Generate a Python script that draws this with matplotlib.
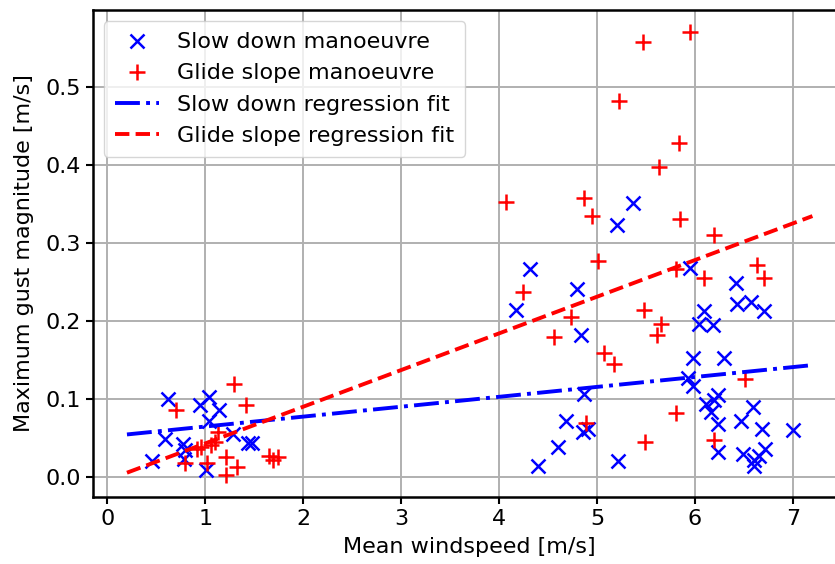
import matplotlib
matplotlib.use("Agg")
import matplotlib.pyplot as plt
import numpy as np

# Slow down manoeuvre data
slow_x = [0.62, 1.04, 0.95, 1.14, 1.04, 0.59, 0.77, 0.79, 0.46, 0.78, 1.01, 1.28, 1.44, 1.48,
          5.37, 5.20, 4.32, 4.80, 4.17, 4.84, 4.87, 4.68, 4.86, 4.91, 4.60, 4.40, 5.21,
          5.95, 6.42, 6.43, 6.57, 6.71, 6.09, 6.04, 6.18, 5.98, 6.30, 5.93, 5.98,
          6.11, 6.19, 6.24, 6.16, 6.24, 6.59, 6.47, 6.69, 7.00, 6.24, 6.49, 6.60, 6.60, 6.72, 6.65]
slow_y = [0.100, 0.103, 0.093, 0.086, 0.072, 0.049, 0.043, 0.035, 0.021, 0.023, 0.009, 0.055, 0.044, 0.044,
          0.352, 0.323, 0.267, 0.241, 0.214, 0.182, 0.107, 0.072, 0.058, 0.062, 0.039, 0.014, 0.021,
          0.269, 0.249, 0.222, 0.225, 0.213, 0.213, 0.196, 0.195, 0.153, 0.153, 0.128, 0.117,
          0.094, 0.099, 0.106, 0.084, 0.068, 0.090, 0.072, 0.062, 0.061, 0.033, 0.030, 0.022, 0.015, 0.036, 0.028]

# Glide slope manoeuvre data
glide_x = [1.29, 1.42, 0.70, 1.13, 1.10, 0.96, 0.92, 1.06, 1.02, 1.21, 1.32, 1.21, 0.79, 1.65, 1.69, 1.74,
           4.07, 4.24, 4.87, 4.95, 5.01, 5.22, 5.47, 5.95, 5.84, 5.63, 5.85, 6.19, 5.81, 6.09,
           6.63, 6.71, 5.48, 5.65, 5.61, 5.07, 5.17, 6.51, 5.81, 5.49, 6.20, 4.73, 4.56, 4.89]
glide_y = [0.120, 0.093, 0.086, 0.058, 0.045, 0.039, 0.036, 0.041, 0.019, 0.026, 0.013, 0.003, 0.019, 0.028, 0.022, 0.026,
           0.353, 0.238, 0.358, 0.335, 0.278, 0.483, 0.558, 0.571, 0.429, 0.398, 0.331, 0.311, 0.267, 0.255,
           0.272, 0.255, 0.215, 0.196, 0.182, 0.159, 0.146, 0.126, 0.082, 0.046, 0.048, 0.205, 0.180, 0.070]

# Regression fits (intercept, slope) and x range
fit_x = [0.2, 7.2]
slow_fit = (0.0525, 0.0127)
glide_fit = (-0.0034, 0.0470)

plt.rcParams['font.family'] = ['DejaVu Sans']
fs = 16

fig = plt.figure(figsize=(8.35, 5.64), dpi=100)
ax = fig.add_axes([0.111, 0.119, 0.903, 0.863])

ax.plot(slow_x, slow_y, 'x', color='blue', markersize=10.5, markeredgewidth=1.8,
        label='Slow down manoeuvre')
ax.plot(glide_x, glide_y, '+', color='red', markersize=11, markeredgewidth=1.8,
        label='Glide slope manoeuvre')
fx = np.array(fit_x)
ax.plot(fx, slow_fit[0] + slow_fit[1] * fx, '-.', color='blue', linewidth=2.8,
        label='Slow down regression fit')
ax.plot(fx, glide_fit[0] + glide_fit[1] * fx, '--', color='red', linewidth=2.8,
        label='Glide slope regression fit')

ax.set_xlim(-0.15, 7.55)
ax.set_ylim(-0.025, 0.599)
ax.set_xticks(range(0, 8))
ax.set_yticks([0.0, 0.1, 0.2, 0.3, 0.4, 0.5])
ax.grid(True, color='#b0b0b0', linewidth=1.4)
ax.set_axisbelow(True)
ax.tick_params(labelsize=fs, width=1.5, length=5)
for s in ax.spines.values():
    s.set_linewidth(1.8)
ax.set_xlabel('Mean windspeed [m/s]', fontsize=fs, labelpad=6)
ax.set_ylabel('Maximum gust magnitude [m/s]', fontsize=fs, labelpad=8)

leg = ax.legend(loc='upper left', fontsize=fs, framealpha=0.8, borderpad=0.5,
                handlelength=2.0)

fig.savefig('out.png', dpi=100)
